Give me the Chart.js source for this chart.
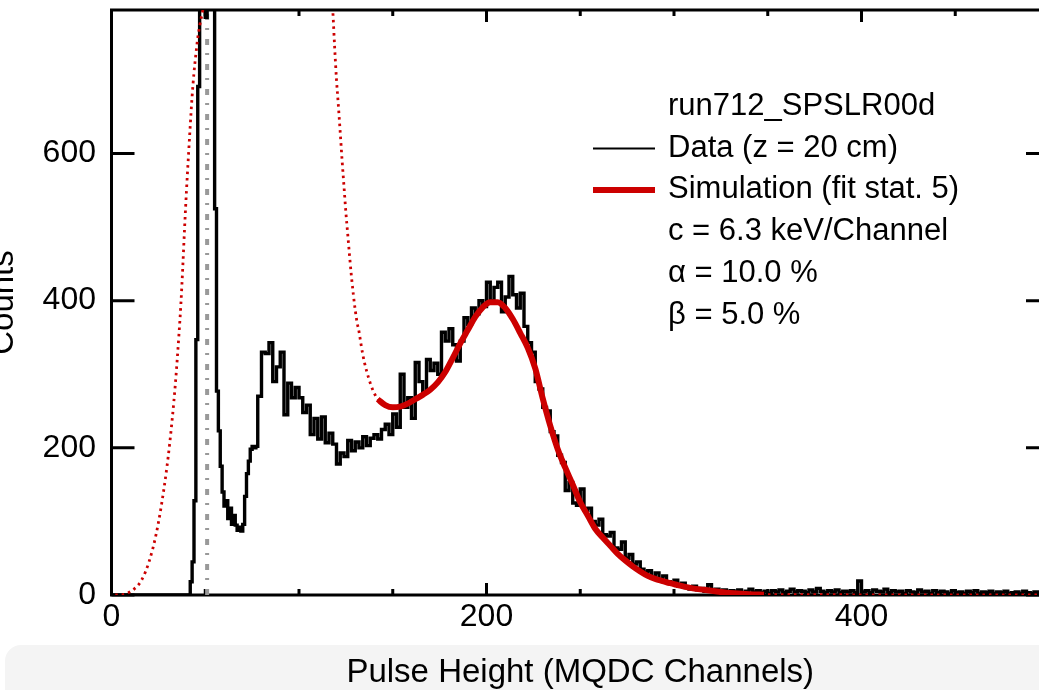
<!DOCTYPE html>
<html>
<head>
<meta charset="utf-8">
<script src="https://cdn.jsdelivr.net/npm/chart.js@4.4.1/dist/chart.umd.min.js"></script>
<style>
  html, body { margin: 0; padding: 0; background: #fff; overflow: hidden; width: 1039px; height: 690px; }
  #band { position: absolute; left: 5px; top: 645px; width: 1100px; height: 100px; background: #f4f4f4; border-radius: 16px; }
  #wrap { position: absolute; left: -40px; top: 0; width: 1100px; height: 690px; }
</style>
</head>
<body>
<div id="band"></div>
<div id="wrap"><canvas id="spectrum" width="1100" height="690"></canvas></div>
<script>
// measured spectrum, 1-channel bins around the pedestal peak
const peakStart = 40;
const peakCounts = [
  0, 0, 18, 45, 128, 347, 691, 1300, 2000, 2400,
  785, 2300, 2000, 1600, 1100, 525, 277, 223, 175, 140,
  121, 128, 104, 118, 96, 108, 95, 88, 92, 87,
  96, 134, 165, 182, 198, 202, 200, 202
];

// 2-channel bins from channel 78 on
const bodyStart = 78;
const bodyWidth = 2;
const bodyCounts = [
  270, 330, 328, 343, 290, 310, 330, 245, 288, 268,
  282, 268, 248, 258, 218, 240, 212, 242, 207, 220,
  205, 178, 193, 188, 210, 196, 208, 200, 215, 203,
  213, 218, 212, 225, 232, 218, 246, 228, 300, 255,
  268, 240, 316, 290, 275, 320, 305, 315, 300, 357,
  345, 362, 340, 318, 345, 377, 368, 390, 382, 400,
  392, 425, 400, 418, 425, 385, 405, 433, 408, 390,
  410, 365, 343, 330, 290, 280, 255, 250, 222, 216,
  190, 180, 142, 153, 125, 122, 144, 115, 118, 100,
  95, 103, 82, 80, 85, 64, 62, 72, 50, 55,
  42, 45, 35, 31, 33, 24, 30, 20, 26, 18,
  15, 20, 12, 16, 10, 8, 12, 7, 9, 5,
  14, 6, 8, 5, 7, 4,
  6, 4, 7, 3, 5, 8, 4, 6, 3, 5,
  2, 6, 4, 7, 3, 5, 8, 4, 6, 5,
  3, 7, 4, 9, 5, 3, 6, 4, 7, 3,
  5, 4, 6, 3, 19, 4, 6, 3, 7, 5,
  4, 8, 3, 6, 4, 5, 2, 6, 4, 3,
  7, 4, 5, 2, 6, 3, 5, 4, 2, 6,
  3, 4, 2, 5, 3, 6, 2, 4, 3, 5,
  2, 4, 3, 5, 2, 3, 4, 2, 5, 3,
  2, 4, 3, 2, 3
];

// simulated spectrum
const simChannels = [
  2, 4, 8, 12, 16, 20, 24, 28, 31, 34,
  36, 37, 38, 39, 40, 41, 42, 43, 44, 45,
  46, 47, 48, 49, 50, 52, 116, 117, 118, 119,
  120, 121, 122, 123, 124, 125, 126, 127, 128, 129,
  130, 131, 132, 133, 134, 135, 136, 137, 138, 139,
  140, 141, 142, 146, 150, 154, 158, 162, 166, 170,
  174, 178, 182, 186, 190, 194, 198, 202, 206, 210,
  214, 218, 222, 226, 230, 234, 238, 242, 246, 250,
  254, 258, 262, 266, 270, 274, 278, 282, 286, 290,
  294, 298, 302, 306, 310, 316, 322, 328, 334, 340,
  348, 360, 400, 450, 500
];
const simCounts = [
  0, 0, 2, 8, 20, 45, 85, 145, 205, 285,
  355, 395, 445, 500, 550, 595, 638, 678, 710, 735,
  757, 773, 786, 798, 810, 850, 900, 830, 795, 745,
  700, 665, 628, 590, 555, 520, 490, 460, 432, 408,
  387, 370, 358, 342, 327, 315, 305, 296, 288, 281,
  275, 270, 266, 258, 255, 256, 260, 266, 272, 279,
  289, 303, 322, 342, 360, 378, 391, 398, 398, 390,
  375, 356, 336, 308, 267, 230, 198, 173, 150, 126,
  108, 90, 78, 67, 56, 47, 39, 32, 26, 22,
  19, 16, 13.5, 11, 9, 7, 5, 3, 2, 1,
  0.5, 0.4, 0.3, 0.3, 0.3
];
const fitRange = [142, 348];
const threshold = 51;

const xMax = 500;
const yMax = 795;
const xLabelTicks = [0, 200, 400];
const xMinorTicks = [0, 50, 100, 150, 200, 250, 300, 350, 400, 450, 500];
const yLabelTicks = [0, 200, 400, 600];

const noteLines = [
  "run712_SPSLR00d",
  "Data (z = 20 cm)",
  "Simulation (fit stat. 5)",
  "c = 6.3 keV/Channel",
  "α = 10.0 %",
  "β = 5.0 %"
];

const RED = '#cc0000';
const FONT = '"Liberation Sans", Arial, Helvetica, sans-serif';

const histo = [{ x: 0, y: 0 }];
peakCounts.forEach((c, i) => histo.push({ x: peakStart + i, y: c }));
bodyCounts.forEach((c, i) => histo.push({ x: bodyStart + i * bodyWidth, y: c }));
histo.push({ x: xMax, y: bodyCounts[bodyCounts.length - 1] });

const simPoints = simChannels.map((c, i) => ({ x: c, y: simCounts[i] }));
const fitPoints = simPoints.filter(p => p.x >= fitRange[0] && p.x <= fitRange[1]);

// box with inward ticks, drawn under the curves
const framePlugin = {
  id: 'frame',
  beforeDatasetsDraw(chart) {
    const { ctx, chartArea: a, scales: { x, y } } = chart;
    ctx.save();
    ctx.strokeStyle = '#000';
    ctx.lineWidth = 3;
    ctx.strokeRect(a.left, a.top, a.right - a.left, a.bottom - a.top);
    ctx.beginPath();
    xMinorTicks.forEach(v => {
      const px = x.getPixelForValue(v);
      const len = xLabelTicks.includes(v) ? 12 : 6;
      ctx.moveTo(px, a.bottom);
      ctx.lineTo(px, a.bottom - len);
      ctx.moveTo(px, a.top);
      ctx.lineTo(px, a.top + len);
    });
    yLabelTicks.forEach(v => {
      const py = y.getPixelForValue(v);
      ctx.moveTo(a.left, py);
      ctx.lineTo(a.left + 23, py);
      ctx.moveTo(a.right, py);
      ctx.lineTo(a.right - 23, py);
    });
    ctx.stroke();
    ctx.restore();
  }
};

const notePlugin = {
  id: 'notes',
  afterDraw(chart) {
    const ctx = chart.ctx;
    ctx.save();
    ctx.font = '31px ' + FONT;
    ctx.fillStyle = '#000';
    ctx.textBaseline = 'alphabetic';
    noteLines.forEach((t, i) => ctx.fillText(t, 708, 115 + i * 41.7));

    ctx.lineCap = 'butt';
    ctx.strokeStyle = '#000';
    ctx.lineWidth = 2;
    ctx.beginPath();
    ctx.moveTo(633, 148.5);
    ctx.lineTo(695, 148.5);
    ctx.stroke();

    ctx.strokeStyle = RED;
    ctx.lineWidth = 6;
    ctx.beginPath();
    ctx.moveTo(633, 190);
    ctx.lineTo(695, 190);
    ctx.stroke();
    ctx.restore();
  }
};

new Chart(document.getElementById('spectrum'), {
  type: 'scatter',
  data: {
    datasets: [
      {
        label: 'Simulation (fit stat. 5)',
        data: fitPoints,
        showLine: true,
        borderColor: RED,
        borderWidth: 6,
        cubicInterpolationMode: 'monotone',
        pointRadius: 0
      },
      {
        label: 'Simulation',
        data: simPoints,
        showLine: true,
        borderColor: RED,
        borderWidth: 2.8,
        borderDash: [2.5, 4],
        cubicInterpolationMode: 'monotone',
        pointRadius: 0
      },
      {
        label: 'Data (z = 20 cm)',
        data: histo,
        showLine: true,
        stepped: true,
        borderColor: '#000',
        borderWidth: 3.4,
        borderJoinStyle: 'miter',
        pointRadius: 0
      },
      {
        label: 'threshold',
        data: [{ x: threshold, y: 0 }, { x: threshold, y: yMax }],
        showLine: true,
        borderColor: '#999999',
        borderWidth: 4,
        borderDash: [6, 9, 2, 8],
        pointRadius: 0
      }
    ]
  },
  options: {
    responsive: false,
    animation: false,
    layout: { padding: { top: 10, right: 11, left: 0, bottom: 0 } },
    plugins: {
      legend: { display: false },
      tooltip: { enabled: false }
    },
    scales: {
      x: {
        type: 'linear',
        min: 0,
        max: xMax,
        afterBuildTicks: s => { s.ticks = xLabelTicks.map(v => ({ value: v })); },
        afterFit: s => {
          s.height = 95;
          s.paddingLeft = 0;
          s.paddingRight = 0;
        },
        grid: { display: false, drawTicks: false },
        border: { display: false },
        ticks: {
          color: '#000',
          font: { size: 32, family: FONT },
          padding: 3,
          maxRotation: 0,
          autoSkip: false
        },
        title: {
          display: true,
          text: 'Pulse Height (MQDC Channels)',
          color: '#000',
          font: { size: 33, family: FONT, lineHeight: 1.05 },
          padding: { top: 0, bottom: 0 }
        }
      },
      y: {
        min: 0,
        max: yMax,
        afterBuildTicks: s => { s.ticks = yLabelTicks.map(v => ({ value: v })); },
        afterFit: s => {
          s.width = 151.5;
          s.paddingTop = 0;
          s.paddingBottom = 0;
        },
        grid: { display: false, drawTicks: false },
        border: { display: false },
        ticks: {
          color: '#000',
          font: { size: 32, family: FONT },
          padding: 15.5
        },
        title: {
          display: true,
          text: 'Counts',
          color: '#000',
          font: { size: 33, family: FONT },
          padding: { top: 24, bottom: 0 }
        }
      }
    }
  },
  plugins: [framePlugin, notePlugin]
});
</script>
</body>
</html>
